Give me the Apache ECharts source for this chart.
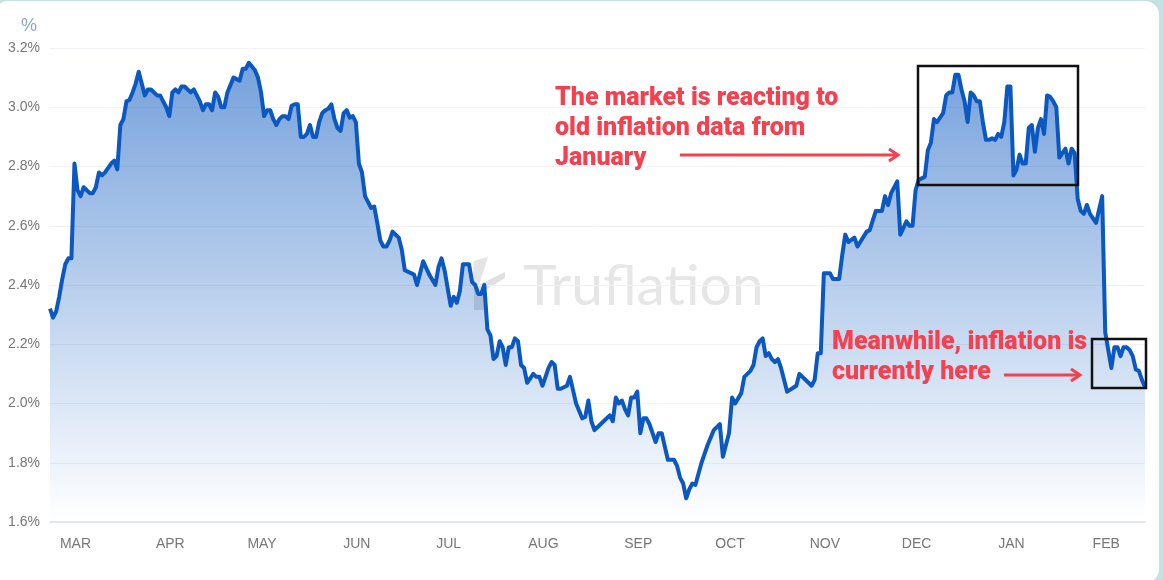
<!DOCTYPE html>
<html>
<head>
<meta charset="utf-8">
<title>Truflation</title>
<script src="https://cdn.jsdelivr.net/npm/echarts@6/dist/echarts.min.js"></script>
<style>
  html, body { margin: 0; padding: 0; background: #c4e2e1; overflow: hidden; }
  #card { position: absolute; left: -6px; top: 1px; width: 1165px; height: 582px; background: #fff; border-radius: 14px; }
  #chart { position: absolute; left: 0; top: 0; width: 1163px; height: 580px; }
</style>
</head>
<body>
<div id="card"></div>
<div id="chart"></div>
<script>
// days counted from 22 Feb
var days = [0,1,2,3,4,5,6,7,8,9,10,11,13,14,15,16,17,18,20,21,22,23,24,25,26,27,28,29,30,31,32,33,35,36,37,38,39,40,41,42,43,44,46,47,48,49,50,51,52,53,54,55,56,57,58,60,62,63,64,65,67,68,69,70,71,72,73,74,75,76,77,78,79,80,81,82,83,84,85,86,87,88,89,90,91,92,93,94,95,96,97,98,99,100,101,102,103,104,105,106,107,108,109,110,111,112,114,115,116,118,119,120,121,122,124,126,127,128,129,131,132,133,134,135,136,137,138,139,140,141,142,143,144,145,146,147,148,149,150,151,152,153,154,155,156,158,159,160,161,162,163,164,165,166,167,169,170,171,172,174,175,176,177,178,180,181,183,184,185,186,187,188,189,190,191,192,193,194,195,196,198,199,200,202,204,205,206,207,208,209,210,211,213,214,215,217,219,220,222,223,224,226,227,229,230,231,232,233,234,235,236,237,238,239,241,244,245,246,248,249,250,251,252,253,255,256,258,259,260,261,263,264,267,268,270,272,273,274,275,277,278,280,281,282,283,284,286,287,288,289,290,292,293,294,295,296,297,298,299,300,301,302,303,304,305,306,307,308,309,310,311,312,313,314,315,316,317,318,319,320,321,322,323,324,325,326,327,328,329,330,332,333,334,335,336,337,338,339,340,341,342,344,345,347,348,349,350,351,352,353,354,355,356,357,358];
var rates = [2.32,2.29,2.31,2.36,2.42,2.47,2.49,2.49,2.81,2.72,2.70,2.73,2.71,2.71,2.73,2.78,2.77,2.78,2.81,2.82,2.79,2.94,2.96,3.02,3.025,3.05,3.08,3.12,3.08,3.04,3.06,3.06,3.04,3.04,3.02,3.00,2.97,3.05,3.06,3.05,3.07,3.07,3.05,3.06,3.04,3.02,2.99,3.01,3.01,2.99,3.05,3.035,3.00,3.00,3.05,3.10,3.09,3.13,3.13,3.15,3.125,3.10,3.05,2.97,2.99,2.99,2.96,2.94,2.96,2.97,2.97,2.96,3.005,3.01,3.01,2.90,2.90,2.91,2.94,2.90,2.90,2.95,2.98,2.99,2.995,3.01,2.96,2.93,2.92,2.98,2.99,2.965,2.97,2.95,2.81,2.78,2.70,2.68,2.66,2.665,2.61,2.55,2.53,2.53,2.55,2.58,2.56,2.52,2.45,2.44,2.435,2.40,2.44,2.48,2.435,2.40,2.46,2.49,2.45,2.33,2.36,2.34,2.38,2.47,2.47,2.47,2.41,2.40,2.37,2.37,2.40,2.25,2.23,2.15,2.16,2.21,2.19,2.13,2.19,2.19,2.22,2.21,2.13,2.12,2.07,2.10,2.09,2.09,2.06,2.09,2.12,2.14,2.13,2.05,2.05,2.06,2.09,2.045,2.00,1.95,1.955,2.01,1.94,1.91,1.93,1.94,1.96,1.94,2.02,2.00,2.01,1.98,1.96,2.02,2.02,2.04,1.90,1.95,1.95,1.93,1.87,1.90,1.90,1.81,1.81,1.79,1.75,1.73,1.68,1.71,1.73,1.725,1.80,1.83,1.86,1.91,1.93,1.82,1.90,2.02,2.00,2.035,2.09,2.11,2.13,2.19,2.21,2.22,2.16,2.17,2.15,2.14,2.15,2.12,2.04,2.06,2.10,2.09,2.07,2.06,2.08,2.17,2.17,2.44,2.44,2.42,2.42,2.50,2.57,2.545,2.56,2.53,2.58,2.585,2.65,2.65,2.70,2.67,2.71,2.75,2.57,2.615,2.60,2.60,2.72,2.755,2.765,2.855,2.88,2.96,2.95,2.98,3.04,3.05,3.05,3.11,3.11,3.06,3.02,2.95,3.05,3.04,3.02,3.02,2.95,2.89,2.89,2.895,2.89,2.91,2.90,2.95,3.07,3.07,2.77,2.79,2.84,2.81,2.81,2.93,2.94,2.85,2.93,2.96,2.91,3.04,3.035,3.02,3.00,2.83,2.86,2.81,2.86,2.845,2.69,2.65,2.64,2.67,2.64,2.625,2.61,2.70,2.24,2.12,2.19,2.19,2.16,2.19,2.19,2.18,2.16,2.115,2.11,2.08,2.055];
var monthDays = [8,39,69,100,130,161,192,222,253,283,314,345];
var monthLabels = ['MAR','APR','MAY','JUN','JUL','AUG','SEP','OCT','NOV','DEC','JAN','FEB'];
var noteMarket = 'The market is reacting to\nold inflation data from\nJanuary';
var noteNow = 'Meanwhile, inflation is\ncurrently here';

var red = '#f4404f';
var noteFont = '900 25px Roboto';

function arrow(x1, x2, y) {
    return [
        { type: 'line', z: 10, shape: { x1: x1, y1: y, x2: x2, y2: y }, style: { stroke: red, lineWidth: 3 } },
        { type: 'polyline', z: 10, shape: { points: [[x2 - 9, y - 6], [x2, y], [x2 - 9, y + 6]] }, style: { stroke: red, lineWidth: 3, fill: null } }
    ];
}

function box(x, y, w, h) {
    return { type: 'rect', z: 10, shape: { x: x, y: y, width: w, height: h }, style: { stroke: '#111', lineWidth: 2.5, fill: null } };
}

var chart = echarts.init(document.getElementById('chart'));
chart.setOption({
    animation: false,
    backgroundColor: 'transparent',
    grid: { left: 50, right: 18, top: 48, bottom: 58 },
    xAxis: {
        type: 'value',
        min: 0,
        max: 358,
        splitLine: { show: false },
        axisTick: { show: false },
        axisLine: { lineStyle: { color: '#dcdfe3', width: 1.5 } },
        axisLabel: {
            customValues: monthDays,
            color: '#777',
            fontFamily: 'Liberation Sans',
            fontSize: 14,
            margin: 15,
            padding: [0, 0, 0, 2],
            formatter: function (v) { return monthLabels[monthDays.indexOf(v)]; }
        }
    },
    yAxis: {
        type: 'value',
        min: 1.6,
        max: 3.2,
        interval: 0.2,
        axisLine: { show: false },
        axisTick: { show: false },
        splitLine: { lineStyle: { color: '#f0f2f5' } },
        axisLabel: {
            color: '#777',
            fontFamily: 'Liberation Sans',
            fontSize: 14,
            margin: 10,
            formatter: function (v) { return v.toFixed(1) + '%'; }
        }
    },
    series: [{
        type: 'line',
        z: 3,
        symbol: 'none',
        data: days.map(function (d, i) { return [d, rates[i]]; }),
        lineStyle: { color: '#0a58c0', width: 4, join: 'round' },
        areaStyle: {
            opacity: 1,
            color: new echarts.graphic.LinearGradient(0, 0, 0, 1, [
                { offset: 0, color: 'rgba(10,88,192,0.56)' },
                { offset: 1, color: 'rgba(10,88,192,0)' }
            ])
        }
    }],
    graphic: [
        { type: 'text', x: 21, y: 17, style: { text: '%', fill: '#8fa9c2', font: '18px "Liberation Sans"' } },
        // watermark
        { type: 'text', z: 0, x: 523, y: 258, style: { text: 'Truflation', fill: '#e6e6e6', font: '57px Lato' } },
        { type: 'polygon', z: 0, shape: { points: [[474, 261], [488, 257], [479, 285], [472, 285]] }, style: { fill: '#e4e4e4' } },
        { type: 'polygon', z: 0, shape: { points: [[474, 310], [485, 310], [485, 290], [505, 278], [505, 272], [474, 287]] }, style: { fill: '#e0e0e0' } },
        // notes
        { type: 'text', z: 10, x: 555, y: 84, style: { text: noteMarket, fill: red, font: noteFont, lineHeight: 30 } },
        { type: 'text', z: 10, x: 832, y: 328, style: { text: noteNow, fill: red, font: noteFont, lineHeight: 30 } },
        box(918, 66, 160, 119),
        box(1092, 339, 54, 49)
    ].concat(arrow(680, 898, 155), arrow(1004, 1080, 375))
});
</script>
</body>
</html>
